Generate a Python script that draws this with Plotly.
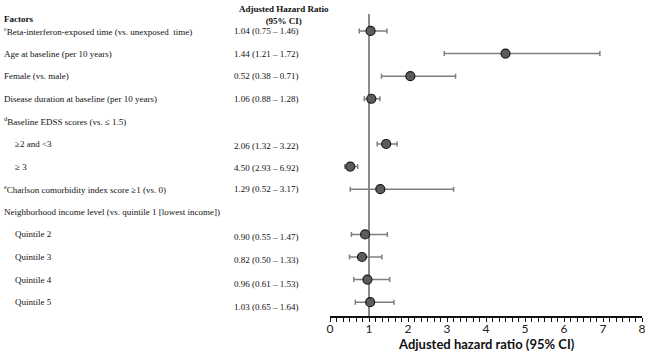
import plotly.graph_objects as go

# ---- table text (left side) ----
factor_labels = [
    "<sup>c</sup>Beta-interferon-exposed time (vs. unexposed  time)",
    "Age at baseline (per 10 years)",
    "Female (vs. male)",
    "Disease duration at baseline (per 10 years)",
    "<sup>d</sup>Baseline EDSS scores (vs. ≤ 1.5)",
    "≥2 and <3",
    "≥ 3",
    "<sup>e</sup>Charlson comorbidity index score ≥1 (vs. 0)",
    "Neighborhood income level (vs. quintile 1 [lowest income])",
    "Quintile 2",
    "Quintile 3",
    "Quintile 4",
    "Quintile 5",
]
factor_indent = [0, 0, 0, 0, 0, 1, 1, 0, 0, 1, 1, 1, 1]
hr_text = [
    "1.04 (0.75 – 1.46)",
    "1.44 (1.21 – 1.72)",
    "0.52 (0.38 – 0.71)",
    "1.06 (0.88 – 1.28)",
    "",
    "2.06 (1.32 – 3.22)",
    "4.50 (2.93 – 6.92)",
    "1.29 (0.52 – 3.17)",
    "",
    "0.90 (0.55 – 1.47)",
    "0.82 (0.50 – 1.33)",
    "0.96 (0.61 – 1.53)",
    "1.03 (0.65 – 1.64)",
]
hr_shift = [0, 0, 0, 0, 0, -2, -1, 0, 0, -3, -3, -4, -5]

# ---- plotted points (as drawn in the figure) ----
plot_row = [0, 1, 2, 3, 5, 6, 7, 9, 10, 11, 12]
plot_hr = [1.04, 4.50, 2.06, 1.06, 1.44, 0.52, 1.29, 0.90, 0.82, 0.96, 1.03]
plot_lo = [0.75, 2.93, 1.32, 0.88, 1.21, 0.38, 0.52, 0.55, 0.50, 0.61, 0.65]
plot_hi = [1.46, 6.92, 3.22, 1.28, 1.72, 0.71, 3.17, 1.47, 1.33, 1.53, 1.64]

x_ticks = [0, 1, 2, 3, 4, 5, 6, 7, 8]

W, H = 645, 352
fig = go.Figure()

fig.add_trace(go.Scatter(
    x=plot_hr, y=plot_row, mode="markers",
    marker=dict(size=9, color="#5c5c5c", line=dict(color="#1a1a1a", width=1.2)),
    error_x=dict(type="data", symmetric=False,
                 array=[h - v for h, v in zip(plot_hi, plot_hr)],
                 arrayminus=[v - l for v, l in zip(plot_hr, plot_lo)],
                 color="#7f7f7f", thickness=1.5, width=2.5),
    showlegend=False, hoverinfo="skip",
))

# reference line at HR = 1
fig.add_shape(type="line", xref="x", yref="paper", x0=1, x1=1, y0=0, y1=1,
              line=dict(color="#8a8a8a", width=2), layer="below")

serif = "Liberation Serif, Times New Roman, serif"
FS = 9
for i, (lab, ind, hr, sh) in enumerate(zip(factor_labels, factor_indent, hr_text, hr_shift)):
    fig.add_annotation(text=lab, x=(2 + 11 * ind) / W, y=i, xref="paper", yref="y",
                       xanchor="left", yanchor="middle", showarrow=False,
                       font=dict(family=serif, size=FS, color="#111"))
    if hr:
        fig.add_annotation(text=hr, x=232 / W, y=i, xref="paper", yref="y",
                           xanchor="left", yanchor="middle", showarrow=False, yshift=sh,
                           font=dict(family=serif, size=FS, color="#111"))

fig.add_annotation(text="<b>Factors</b>", x=2 / W, y=1, xref="paper", yref="paper",
                   xanchor="left", yanchor="middle", showarrow=False, yshift=-5,
                   font=dict(family=serif, size=FS, color="#111"))
fig.add_annotation(text="<b>Adjusted Hazard Ratio</b><br><b>(95% CI)</b>", x=284 / W, y=1,
                   xref="paper", yref="paper", xanchor="center", yanchor="middle",
                   showarrow=False, yshift=-1,
                   font=dict(family=serif, size=FS, color="#111"))
fig.add_annotation(text="<b>Adjusted hazard ratio (95% CI)</b>", x=4, y=0, xref="x", yref="paper",
                   xanchor="center", yanchor="middle", showarrow=False, yshift=-28,
                   font=dict(family="Lato, Liberation Sans, sans-serif", size=13, color="#111"))

fig.update_layout(
    width=W, height=H, margin=dict(l=0, r=0, t=14, b=36),
    paper_bgcolor="white", plot_bgcolor="white",
    xaxis=dict(domain=[330 / W, 642 / W], range=[0, 8], tickvals=x_ticks,
               ticktext=[str(t) for t in x_ticks], automargin=False,
               ticklabeloverflow="allow", ticklabelstandoff=-3,
               showgrid=False, zeroline=False, showline=True, linecolor="#111", linewidth=1.5,
               ticks="outside", ticklen=4, tickwidth=1.2, tickcolor="#111",
               minor=dict(dtick=1 / 6, tick0=0, ticks="outside", ticklen=4, tickwidth=1,
                          tickcolor="#111", showgrid=False),
               tickfont=dict(family="Lato, Liberation Sans, sans-serif", size=12, color="#222"),
               fixedrange=True),
    yaxis=dict(range=[12.61, -0.75], visible=False, showgrid=False, zeroline=False,
               automargin=False),
)

fig.write_html("out.html", config={"displayModeBar": False},
               post_script="document.body.style.margin='0';document.body.style.overflow='hidden';")
